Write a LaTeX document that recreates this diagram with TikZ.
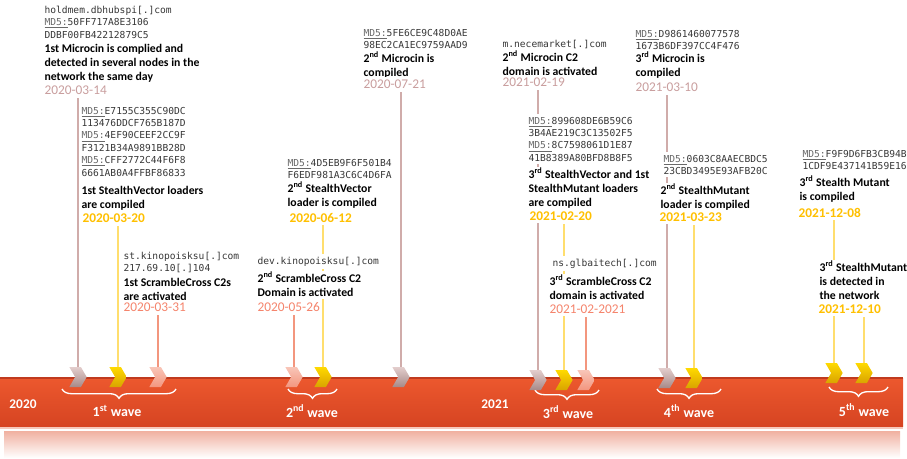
\documentclass[tikz,border=0pt]{standalone}
\usepackage{fontspec}
\setmainfont{Carlito}
\setmonofont{DejaVu Sans Mono}
\usepackage{xcolor}
\usepackage{tikz}
\usetikzlibrary{shapes.symbols, backgrounds, decorations.pathreplacing}

\definecolor{mcdate}{RGB}{201,158,158}
\definecolor{mcline}{RGB}{208,172,170}
\definecolor{svdate}{RGB}{255,192,0}
\definecolor{svline}{RGB}{255,222,110}
\definecolor{scdate}{RGB}{245,132,108}
\definecolor{scline}{RGB}{243,150,126}
\definecolor{hashgray}{RGB}{55,55,55}
\definecolor{bartop}{RGB}{236,88,46}
\definecolor{barmid}{RGB}{255,92,48}
\definecolor{barbot}{RGB}{214,68,34}
\definecolor{baredge}{RGB}{192,58,30}
\definecolor{barglow}{RGB}{246,200,188}
\definecolor{reflect}{RGB}{240,176,160}

\newcommand\hashfont{\ttfamily\fontsize{7.2}{9.3}\selectfont}
\newcommand\descfont{\bfseries\fontsize{8.8}{10.6}\selectfont}
\newcommand\dtfont{\fontsize{10}{12}\selectfont}
\newcommand\wavefont{\bfseries\fontsize{10.5}{12}\selectfont}
\newcommand\mdfive{\textcolor{hashgray!75}{\underline{MD5:}}}
\newcommand\ord[1]{\smash{\textsuperscript{#1}}}

\begin{document}
\begin{tikzpicture}[
    x=0.75pt, y=-0.75pt,
    hash/.style={anchor=north west, inner xsep=1pt, inner ysep=2pt, fill=white, align=left, font=\hashfont, text=hashgray},
    desc/.style={anchor=north west, inner xsep=1pt, inner ysep=2pt, fill=white, align=left, font=\descfont},
    date/.style={anchor=north west, inner xsep=1pt, inner ysep=2pt, fill=white, font=\dtfont},
    mcdt/.style={date, text=mcdate},
    svdt/.style={date, text=svdate, font=\dtfont\bfseries},
    scdt/.style={date, text=scdate},
    chev/.style={signal, signal from=west, signal to=east, signal pointer angle=120, minimum width=13pt, minimum height=15pt, inner sep=0pt},
    mcchev/.style={chev, top color=mcline!60!white, bottom color=mcline!80!black},
    svchev/.style={chev, top color=svdate!60!yellow, bottom color=svdate!85!black},
    scchev/.style={chev, top color=scline!55!white, bottom color=scline},
    mcstem/.style={draw=mcline, line width=1.1pt},
    svstem/.style={draw=svline, line width=1.1pt},
    scstem/.style={draw=scline, line width=1.1pt},
    wave/.style={text=white, font=\wavefont},
    wavebrace/.style={draw=white, line width=1pt, decorate, decoration={brace, mirror, amplitude=7pt}}
]
    \useasboundingbox (0,0) rectangle (907,458);

    % Timeline bar and its reflection
    \shade[top color=reflect, bottom color=white] (4,431) rectangle (900,458);
    \shade[top color=bartop, middle color=barmid, bottom color=barbot] (0,378) rectangle (903,426);
    \draw[baredge, line width=0.8pt] (0,378) -- (903,378);
    \draw[barglow, line width=1pt] (0,428) -- (903,428);

    % Years
    \node[wave, font=\dtfont\bfseries] (y2020) at (23,404) {2020};
    \node[wave, font=\dtfont\bfseries] (y2021) at (495,404) {2021};

    % Waves
    \draw[wavebrace] (62,389) -- (176,389);
    \draw[wavebrace] (288,389) -- (337,389);
    \draw[wavebrace] (535,390) -- (599,390);
    \draw[wavebrace] (657,389) -- (721,389);
    \draw[wavebrace] (829,387) -- (888,387);
    \node[wave] (w1) at (117,411) {1\textsuperscript{st} wave};
    \node[wave] (w2) at (312,411) {2\textsuperscript{nd} wave};
    \node[wave] (w3) at (568,412) {3\textsuperscript{rd} wave};
    \node[wave] (w4) at (689,411) {4\textsuperscript{th} wave};
    \node[wave] (w5) at (864,410) {5\textsuperscript{th} wave};

    % Chevrons on the bar
    \node[mcchev] (mc1c) at (78,377) {};
    \node[svchev] (sv1c) at (118,377) {};
    \node[scchev] (sc1c) at (158,377) {};
    \node[scchev] (sc2c) at (294,377) {};
    \node[svchev] (sv2c) at (323,377) {};
    \node[mcchev] (mc2c) at (401,377) {};
    \node[mcchev] (mcdomc) at (538,380) {};
    \node[svchev] (sv3c) at (564,380) {};
    \node[scchev] (sc3c) at (586,380) {};
    \node[mcchev] (mc3c) at (667,378) {};
    \node[svchev] (sm2c) at (694,378) {};
    \node[svchev] (sm3c) at (834,373) {};
    \node[svchev] (sm3detc) at (864,373) {};

    % 1st Microcin
    \node[hash] (mc1hash) at (43,3) {holdmem.dbhubspi[.]com\\\mdfive 50FF717A8E3106\\DDBF00FB42212879C5};
    \node[desc] (mc1desc) at (43,41) {1st Microcin is complied and\\detected in several nodes in the\\network the same day};
    \node[mcdt] (mc1date) at (43,83) {2020-03-14};

    % 1st StealthVector
    \node[hash] (sv1hash) at (80,104) {\mdfive E7155C355C90DC\\113476DDCF765B187D\\\mdfive 4EF90CEEF2CC9F\\F3121B34A9891BB28D\\\mdfive CFF2772C44F6F8\\6661AB0A4FFBF86833};
    \node[desc] (sv1desc) at (80,183) {1st StealthVector loaders\\are compiled};
    \node[svdt] (sv1date) at (81,211) {2020-03-20};

    % 1st ScrambleCross
    \node[hash] (sc1hash) at (122,249) {st.kinopoisksu[.]com\\217.69.10[.]104};
    \node[desc] (sc1desc) at (122,275) {1st ScrambleCross C2s\\are activated};
    \node[scdt] (sc1date) at (122,300) {2020-03-31};

    % 2nd StealthVector
    \node[hash] (sv2hash) at (286,156) {\mdfive 4D5EB9F6F501B4\\F6EDF981A3C6C4D6FA};
    \node[desc] (sv2desc) at (286,181) {2\ord{nd} StealthVector\\loader is compiled};
    \node[svdt] (sv2date) at (288,210) {2020-06-12};

    % 2nd ScrambleCross
    \node[hash] (sc2hash) at (256,254) {dev.kinopoisksu[.]com};
    \node[desc] (sc2desc) at (256,271) {2\ord{nd} ScrambleCross C2\\Domain is activated};
    \node[scdt] (sc2date) at (256,300) {2020-05-26};

    % 2nd Microcin
    \node[hash] (mc2hash) at (362,26) {\mdfive 5FE6CE9C48D0AE\\98EC2CA1EC9759AAD9};
    \node[desc] (mc2desc) at (362,51) {2\ord{nd} Microcin is\\compiled};
    \node[mcdt] (mc2date) at (362,77) {2020-07-21};

    % 2nd Microcin C2
    \node[hash] (mcdomhash) at (501,37) {m.necemarket[.]com};
    \node[desc] (mcdomdesc) at (501,50) {2\ord{nd} Microcin C2\\domain is activated};
    \node[mcdt] (mcdomdate) at (501,75) {2021-02-19};

    % 3rd StealthVector and 1st StealthMutant
    \node[hash] (sv3hash) at (527,114) {\mdfive 899608DE6B59C6\\3B4AE219C3C13502F5\\\mdfive 8C7598061D1E87\\41B8389A80BFD8B8F5};
    \node[desc] (sv3desc) at (527,167) {3\ord{rd} StealthVector and 1st\\StealthMutant loaders\\are compiled};
    \node[svdt] (sv3date) at (528,209) {2021-02-20};

    % 3rd ScrambleCross
    \node[hash] (sc3hash) at (551,256) {ns.glbaitech[.]com};
    \node[desc] (sc3desc) at (548,274) {3\ord{rd} ScrambleCross C2\\domain is activated};
    \node[scdt] (sc3date) at (548,302) {2021-02-2021};

    % 3rd Microcin
    \node[hash] (mc3hash) at (634,27) {\mdfive D9861460077578\\1673B6DF397CC4F476};
    \node[desc] (mc3desc) at (634,51) {3\ord{rd} Microcin is\\compiled};
    \node[mcdt] (mc3date) at (634,80) {2021-03-10};

    % 2nd StealthMutant
    \node[hash] (sm2hash) at (662,152) {\mdfive 0603C8AAECBDC5\\23CBD3495E93AFB20C};
    \node[desc] (sm2desc) at (659,183) {2\ord{nd} StealthMutant\\loader is compiled};
    \node[svdt] (sm2date) at (658,210) {2021-03-23};

    % 3rd StealthMutant
    \node[hash] (sm3hash) at (801,147) {\mdfive F9F9D6FB3CB94B\\1CDF9E437141B59E16};
    \node[desc] (sm3desc) at (798,175) {3\ord{rd} Stealth Mutant\\is compiled};
    \node[svdt] (sm3date) at (797,205) {2021-12-08};

    \node[desc] (sm3detdesc) at (818,260) {3\ord{rd} StealthMutant\\is detected in\\the network};
    \node[svdt] (sm3detdate) at (817,302) {2021-12-10};

    % Stems from dates down to the bar
    \begin{scope}[on background layer]
        \draw[mcstem] (mc1c.north) -- (mc1c.north |- mc1date.south);
        \draw[svstem] (sv1c.north) -- (sv1c.north |- sv1date.south);
        \draw[scstem] (sc1c.north) -- (sc1c.north |- sc1date.south);
        \draw[svstem] (sv2c.north) -- (sv2c.north |- sv2date.south);
        \draw[scstem] (sc2c.north) -- (sc2c.north |- sc2date.south);
        \draw[mcstem] (mc2c.north) -- (mc2c.north |- mc2date.south);
        \draw[mcstem] (mcdomc.north) -- (mcdomc.north |- mcdomdate.south);
        \draw[svstem] (sv3c.north) -- (sv3c.north |- sv3date.south);
        \draw[scstem] (sc3c.north) -- (sc3c.north |- sc3date.south);
        \draw[mcstem] (mc3c.north) -- (mc3c.north |- mc3date.south);
        \draw[svstem] (sm2c.north) -- (sm2c.north |- sm2date.south);
        \draw[svstem] (sm3c.north) -- (sm3c.north |- sm3date.south);
        \draw[svstem] (sm3detc.north) -- (sm3detc.north |- sm3detdate.south);
    \end{scope}

\end{tikzpicture}
\end{document}
